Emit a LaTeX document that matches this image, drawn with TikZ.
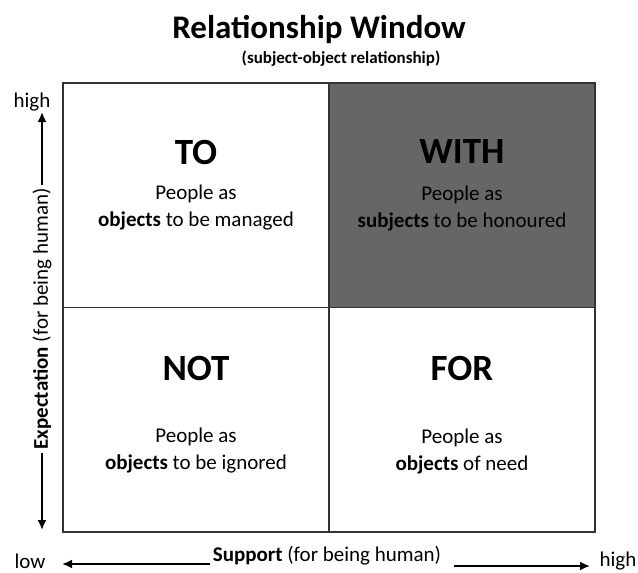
\documentclass[tikz,border=0pt]{standalone}
\usepackage{fontspec}
\setmainfont{Carlito}
\usetikzlibrary{positioning,arrows.meta}

\tikzset{
  cell/.style={draw=black!80, line width=1.3pt, inner sep=0pt, outer sep=0pt,
    minimum width=266pt, minimum height=224.5pt},
  head/.style={font=\fontsize{37}{37}\selectfont\bfseries},
  body/.style={font=\fontsize{21}{27}\selectfont, align=center},
  axis/.style={font=\fontsize{21}{21}\selectfont, inner sep=3pt},
  axisarrow/.style={line width=1.8pt, -{Latex[length=10pt,width=9pt]}}
}

\begin{document}
\begin{tikzpicture}[x=1pt,y=-1pt]

%window info
\def\xl{63}
\def\xm{329}
\def\xr{595}
\def\yt{83}
\def\ym{307.5}
\def\yb{532}
\useasboundingbox (0,0) rectangle (638,573);
\fill[white] (0,0) rectangle (638,573);

%title
\node[font=\fontsize{33}{33}\selectfont\bfseries] (title) at (319,29) {Relationship Window};
\node[font=\fontsize{17}{17}\selectfont\bfseries] (subtitle) at (341,59) {(subject-object relationship)};

%cells
\node[cell] (to)   at ({(\xl+\xm)/2},{(\yt+\ym)/2}) {};
\node[cell, fill=black!60] (with) at ({(\xm+\xr)/2},{(\yt+\ym)/2}) {};
\node[cell] (not)  at ({(\xl+\xm)/2},{(\ym+\yb)/2}) {};
\node[cell] (for)  at ({(\xm+\xr)/2},{(\ym+\yb)/2}) {};

%cell texts
\node[head] (tohead)   at (196,152) {TO};
\node[body] (totext)   at (196,208) {People as\\\textbf{objects} to be managed};
\node[head] (withhead) at (462,152) {WITH};
\node[body] (withtext) at (462,208) {People as\\\textbf{subjects} to be honoured};
\node[head] (nothead)  at (196,368) {NOT};
\node[body] (nottext)  at (196,451) {People as\\\textbf{objects} to be ignored};
\node[head] (forhead)  at (462,368) {FOR};
\node[body] (fortext)  at (462,451) {People as\\\textbf{objects} of need};

%support axis
\node[axis, inner sep=1pt] (low)   at (30,561)  {low};
\node[axis] (support) at (327,556) {\textbf{Support} (for being human)};
\node[axis, inner sep=1pt] (highx) at (618,561) {high};
\coordinate (lowend)  at (62,564);
\coordinate (highend) at (590,566);
\draw[axisarrow] (support.west |- lowend) -- (lowend);
\draw[axisarrow] ([xshift=10pt]support.east |- highend) -- (highend);

%expectation axis
\node[axis] (highy)  at (32,102) {high};
\node[axis, rotate=90] (expect) at (42,319) {\textbf{Expectation} (for being human)};
\coordinate (upend)   at (42,112);
\coordinate (downend) at (42,530);
\draw[axisarrow] (expect.east) -- (upend);
\draw[axisarrow] (expect.west) -- (downend);

\end{tikzpicture}
\end{document}
